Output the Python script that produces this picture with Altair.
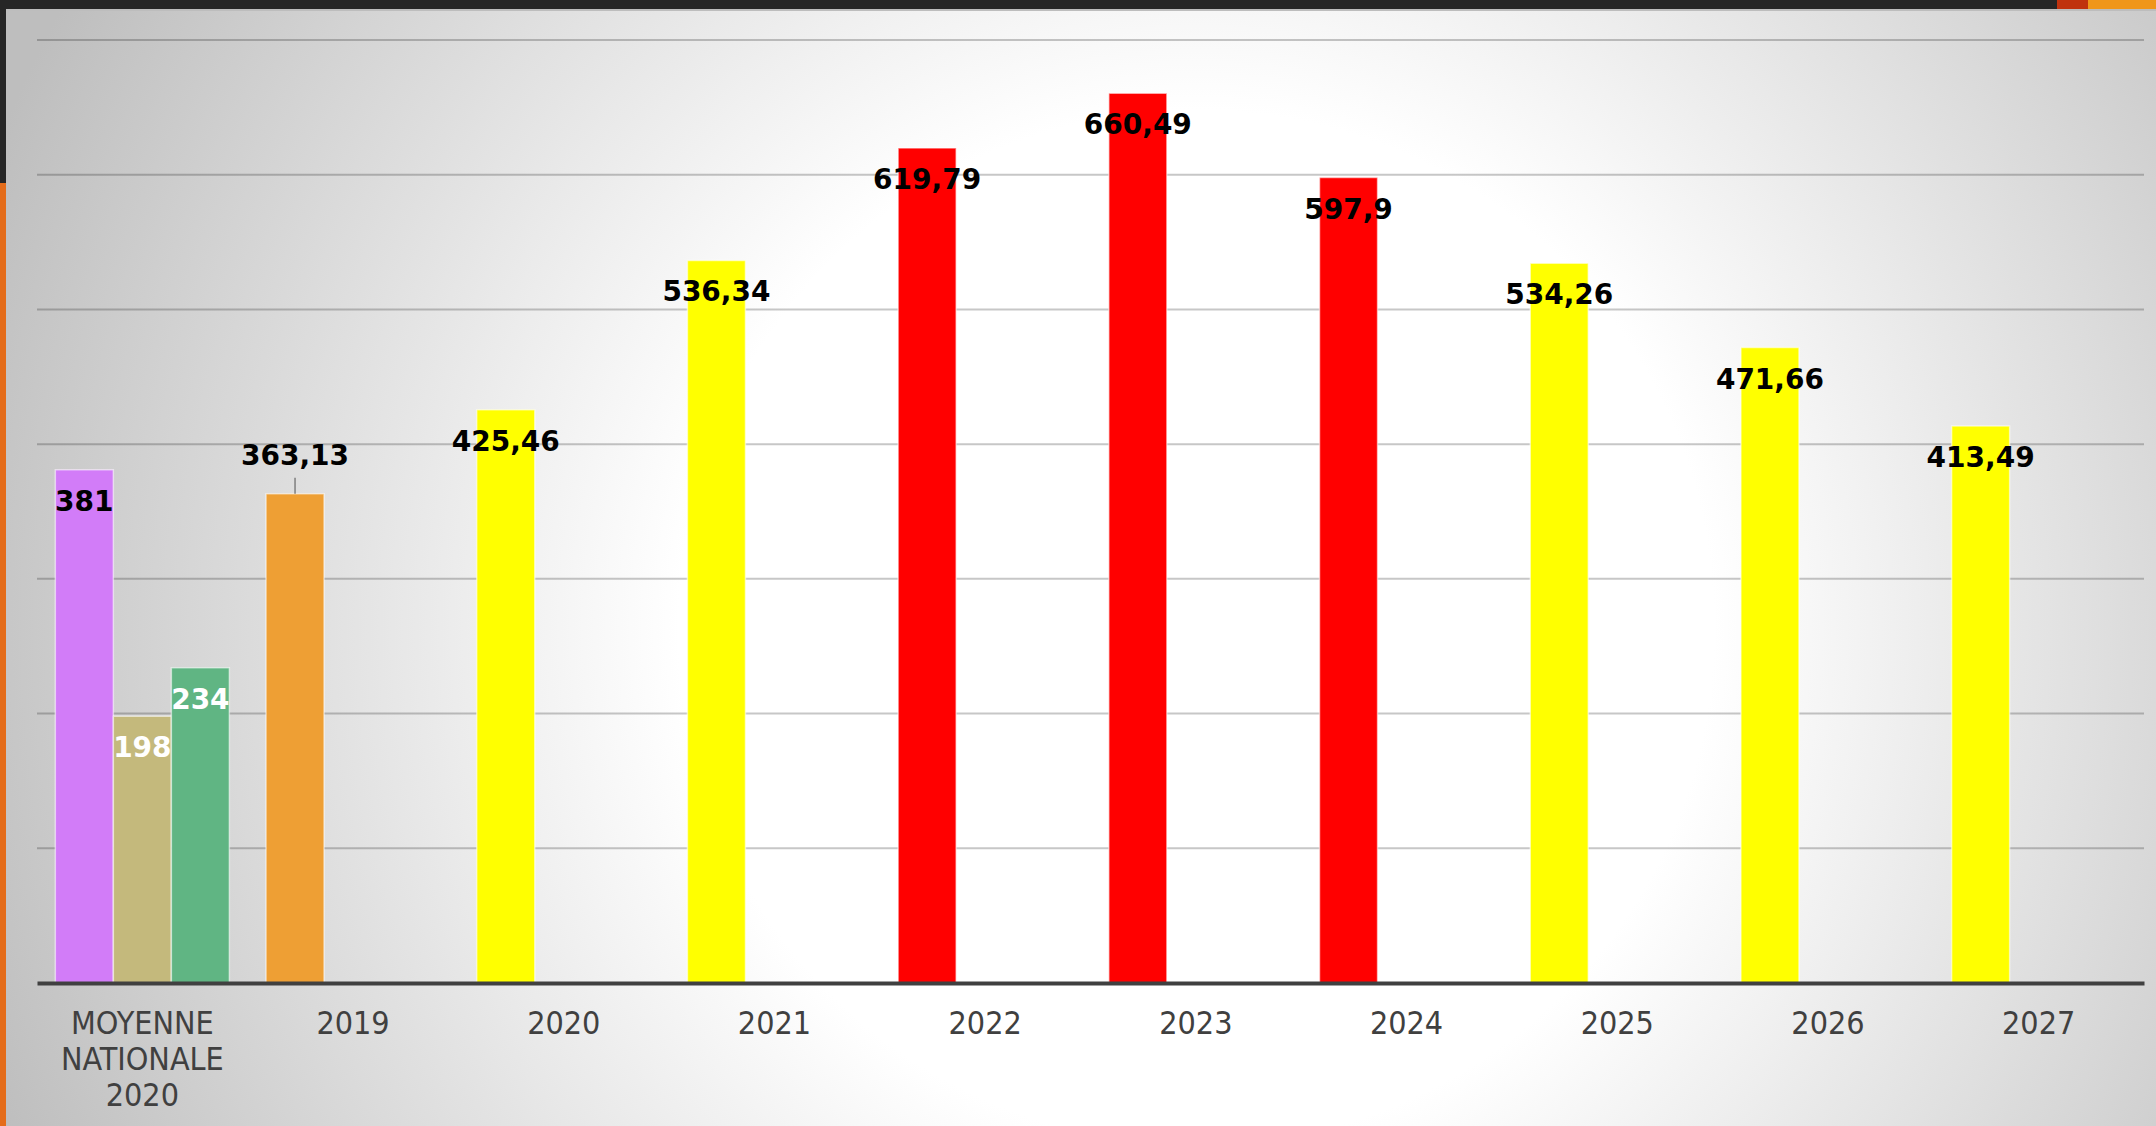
import altair as alt
import pandas as pd

# ---- data ----
categories = ["MOYENNE NATIONALE 2020", "2019", "2020", "2021", "2022",
              "2023", "2024", "2025", "2026", "2027"]
series_names = ["s1", "s2", "s3"]
bar_category = ["MOYENNE NATIONALE 2020"] * 3 + categories[1:]
bar_series = ["s1", "s2", "s3"] + ["s1"] * 9
bar_values = [381, 198, 234, 363.13, 425.46, 536.34, 619.79, 660.49,
              597.9, 534.26, 471.66, 413.49]
bar_level = ["Moyenne 1", "Moyenne 2", "Moyenne 3", "2019", "Modéré", "Modéré",
             "Élevé", "Élevé", "Élevé", "Modéré", "Modéré", "Modéré"]
level_names = ["Moyenne 1", "Moyenne 2", "Moyenne 3", "2019", "Modéré", "Élevé"]
level_colors = ["#d27cf8", "#c4b97c", "#60b583", "#ee9f34", "#ffff00", "#ff0000"]
y_ticks = [100, 200, 300, 400, 500, 600, 700]

df = pd.DataFrame({"cat": bar_category, "serie": bar_series,
                   "v": bar_values, "niveau": bar_level})
grid_df = pd.DataFrame({"t": y_ticks})
one = pd.DataFrame({"a": [0]})

W, H = 2107, 943
yscale = alt.Scale(domain=[0, 700], nice=False, zero=True)
xscale = alt.Scale(domain=categories, paddingInner=0, paddingOuter=0)
oscale = alt.Scale(domain=series_names, paddingInner=0, paddingOuter=0.316)

X = alt.X("cat:N", scale=xscale, sort=categories,
          axis=alt.Axis(title=None, labelAngle=0, ticks=False, tickSize=0,
                        grid=False, domainColor="#404040", domainWidth=4,
                        labelFont="DejaVu Sans Condensed, Roboto", labelFontSize=32,
                        labelColor="#404040", labelPadding=25, labelLimit=0,
                        labelLineHeight=36, zindex=1,
                        labelExpr="split(datum.label, ' ')"))
Xn = alt.X("cat:N", scale=xscale, sort=categories)
XO = alt.XOffset("serie:N", scale=oscale)

# background: rect covering the canvas, radial gradient
bg = alt.Chart(one).mark_rect(
    fill={"gradient": "radial",
          "x1": 0.555, "y1": 0.53, "r1": 0,
          "x2": 0.555, "y2": 0.53, "r2": 0.6,
          "stops": [{"offset": 0, "color": "#ffffff"},
                    {"offset": 0.40, "color": "#ffffff"},
                    {"offset": 1, "color": "#bebebe"}]}
).encode(x=alt.value(-37), x2=alt.value(2119), y=alt.value(-40), y2=alt.value(1086))

grid = alt.Chart(grid_df).mark_rule(stroke="#000000", strokeOpacity=0.22, strokeWidth=2).encode(
    y=alt.Y("t:Q", scale=yscale, axis=None), x=alt.value(0), x2=alt.value(W))

bars = alt.Chart(df).mark_bar(stroke="#ffffff", strokeOpacity=0.55, strokeWidth=1.5).encode(
    x=X, xOffset=XO,
    y=alt.Y("v:Q", scale=yscale, axis=None),
    color=alt.Color("niveau:N", scale=alt.Scale(domain=level_names, range=level_colors), legend=None))

lab = alt.Chart(df).transform_calculate(label="replace(toString(datum.v), '.', ',')")

txt_black = lab.transform_filter("datum.serie == 's1' && datum.cat != '2019'").mark_text(
    font="DejaVu Sans", fontWeight="bold", fontSize=28, color="#000000",
    baseline="alphabetic", dy=41).encode(
    x=Xn, xOffset=XO, y=alt.Y("v:Q", scale=yscale, axis=None), text="label:N")

txt_white = lab.transform_filter("datum.serie != 's1'").mark_text(
    font="DejaVu Sans", fontWeight="bold", fontSize=28, color="#ffffff",
    baseline="alphabetic", dy=41).encode(
    x=Xn, xOffset=XO, y=alt.Y("v:Q", scale=yscale, axis=None), text="label:N")

txt_above = lab.transform_filter("datum.cat == '2019'").mark_text(
    font="DejaVu Sans", fontWeight="bold", fontSize=28, color="#000000",
    baseline="alphabetic", dy=-29).encode(
    x=Xn, xOffset=XO, y=alt.Y("v:Q", scale=yscale, axis=None), text="label:N")

leader = alt.Chart(df).transform_filter("datum.cat == '2019'").mark_rule(
    color="#7f7f7f", strokeWidth=1.5, y2Offset=-16).encode(
    x=Xn, xOffset=XO, y=alt.Y("v:Q", scale=yscale, axis=None), y2="v:Q")


def deco(x, x2, y, y2, color):
    return alt.Chart(one).mark_rect(color=color).encode(
        x=alt.value(x), x2=alt.value(x2), y=alt.value(y), y2=alt.value(y2))


decos = [
    deco(-31, 2119, -31, -29, "#bdbdbd"),
    deco(-37, 2119, -40, -31, "#262626"),
    deco(2020, 2051, -40, -31, "#c0320e"),
    deco(2051, 2119, -40, -31, "#f0961a"),
    deco(-37, -31, -40, 143, "#262626"),
    deco(-37, -31, 143, 1086, "#e46c1a"),
]

chart = alt.layer(bg, grid, bars, leader, txt_black, txt_white, txt_above, *decos).properties(
    width=W, height=H,
    autosize=alt.AutoSizeParams(type="none"),
    padding={"left": 37, "top": 40, "right": 12, "bottom": 143},
).configure_view(stroke=None).configure(background="#d0d0d0")

chart.save("out.html", embed_options={"renderer": "svg", "actions": False})
